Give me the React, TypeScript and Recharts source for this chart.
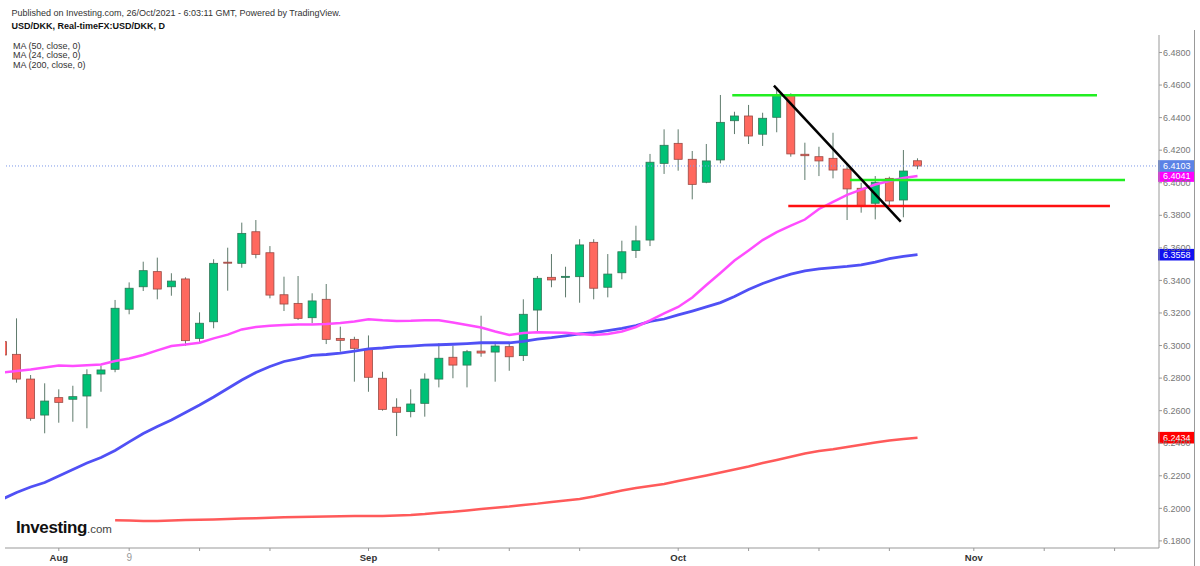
import React from 'react';
import { ComposedChart, Bar, Line, XAxis, YAxis, ReferenceLine } from 'recharts';

const FONT = '"Liberation Sans", Arial, sans-serif';

// daily USD/DKK candles, Jul 27 -> Oct 26 2021
const DATES = [
  'Jul 27', 'Jul 28', 'Jul 29', 'Jul 30',
  'Aug 2', 'Aug 3', 'Aug 4', 'Aug 5', 'Aug 6', 'Aug 9', 'Aug 10', 'Aug 11', 'Aug 12', 'Aug 13',
  'Aug 16', 'Aug 17', 'Aug 18', 'Aug 19', 'Aug 20', 'Aug 23', 'Aug 24', 'Aug 25', 'Aug 26', 'Aug 27',
  'Aug 30', 'Aug 31',
  'Sep 1', 'Sep 2', 'Sep 3', 'Sep 6', 'Sep 7', 'Sep 8', 'Sep 9', 'Sep 10', 'Sep 13', 'Sep 14',
  'Sep 15', 'Sep 16', 'Sep 17', 'Sep 20', 'Sep 21', 'Sep 22', 'Sep 23', 'Sep 24', 'Sep 27', 'Sep 28',
  'Sep 29', 'Sep 30',
  'Oct 1', 'Oct 4', 'Oct 5', 'Oct 6', 'Oct 7', 'Oct 8', 'Oct 11', 'Oct 12', 'Oct 13', 'Oct 14',
  'Oct 15', 'Oct 18', 'Oct 19', 'Oct 20', 'Oct 21', 'Oct 22', 'Oct 25', 'Oct 26',
];

const OPEN = [
  6.3024, 6.2946, 6.2794, 6.2573,
  6.2680, 6.2670, 6.2690, 6.2825, 6.2854, 6.3223, 6.3361, 6.3454, 6.3361, 6.3409,
  6.3044, 6.3146, 6.3512, 6.3505, 6.3699, 6.3570, 6.3312, 6.3259, 6.3171, 6.3284,
  6.3044, 6.3038,
  6.2977, 6.2799, 6.2621, 6.2594, 6.2645, 6.2794, 6.2928, 6.2880, 6.2966, 6.2960,
  6.2993, 6.2938, 6.3218, 6.3419, 6.3419, 6.3423, 6.3634, 6.3358, 6.3447, 6.3584,
  6.3648, 6.4119,
  6.4242, 6.4144, 6.4003, 6.4140, 6.4381, 6.4410, 6.4298, 6.4402, 6.4535, 6.4175,
  6.4160, 6.4150, 6.4084, 6.3966, 6.3874, 6.4027, 6.3894, 6.4135,
];

const HIGH = [
  6.3060, 6.3167, 6.2819, 6.2768,
  6.2731, 6.2753, 6.2854, 6.2876, 6.3280, 6.3388, 6.3515, 6.3540, 6.3444, 6.3419,
  6.3204, 6.3530, 6.3601, 6.3755, 6.3771, 6.3611, 6.3423, 6.3427, 6.3321, 6.3378,
  6.3116, 6.3054,
  6.3062, 6.2839, 6.2676, 6.2731, 6.2829, 6.3014, 6.2999, 6.2973, 6.3183, 6.3024,
  6.3024, 6.3284, 6.3427, 6.3562, 6.3484, 6.3653, 6.3653, 6.3562, 6.3644, 6.3736,
  6.4177, 6.4328,
  6.4328, 6.4195, 6.4238, 6.4539, 6.4436, 6.4478, 6.4430, 6.4586, 6.4549, 6.4246,
  6.4221, 6.4307, 6.4099, 6.4000, 6.4041, 6.4037, 6.4201, 6.4150,
];

const LOW = [
  6.2930, 6.2772, 6.2538, 6.2461,
  6.2526, 6.2532, 6.2492, 6.2716, 6.2836, 6.3192, 6.3335, 6.3284, 6.3306, 6.2999,
  6.3014, 6.3106, 6.3337, 6.3478, 6.3536, 6.3290, 6.3212, 6.3157, 6.3137, 6.3009,
  6.2962, 6.2778,
  6.2716, 6.2600, 6.2444, 6.2559, 6.2563, 6.2743, 6.2799, 6.2743, 6.2931, 6.2778,
  6.2845, 6.2905, 6.3079, 6.3358, 6.3296, 6.3263, 6.3284, 6.3296, 6.3407, 6.3538,
  6.3611, 6.4054,
  6.4074, 6.3898, 6.3997, 6.4119, 6.4299, 6.4238, 6.4226, 6.4310, 6.4160, 6.4017,
  6.4041, 6.4027, 6.3771, 6.3816, 6.3775, 6.3857, 6.3788, 6.4083,
];

const CLOSE = [
  6.2942, 6.2794, 6.2553, 6.2659,
  6.2651, 6.2686, 6.2821, 6.2850, 6.3229, 6.3352, 6.3460, 6.3347, 6.3396, 6.3030,
  6.3137, 6.3505, 6.3506, 6.3689, 6.3560, 6.3310, 6.3255, 6.3167, 6.3274, 6.3038,
  6.3032, 6.2983,
  6.2805, 6.2608, 6.2590, 6.2641, 6.2794, 6.2922, 6.2880, 6.2962, 6.2954, 6.2997,
  6.2931, 6.3192, 6.3413, 6.3403, 6.3425, 6.3618, 6.3352, 6.3439, 6.3576, 6.3643,
  6.4126, 6.4230,
  6.4144, 6.3990, 6.4134, 6.4371, 6.4410, 6.4287, 6.4396, 6.4535, 6.4177, 6.4166,
  6.4134, 6.4078, 6.3962, 6.3859, 6.4003, 6.3888, 6.4072, 6.4103,
];

const MA24 = [
  6.2834, 6.2844, 6.2853, 6.2865, 6.2877, 6.2874, 6.2879, 6.2884, 6.2905, 6.2920,
  6.2942, 6.2970, 6.2997, 6.3006, 6.3017, 6.3044, 6.3067, 6.3099, 6.3114, 6.3121,
  6.3126, 6.3129, 6.3130, 6.3132, 6.3138, 6.3148, 6.3161, 6.3155, 6.3151, 6.3152,
  6.3155, 6.3156, 6.3142, 6.3126, 6.3111, 6.3086, 6.3065, 6.3077, 6.3081, 6.3080,
  6.3078, 6.3071, 6.3065, 6.3071, 6.3086, 6.3114, 6.3154, 6.3197, 6.3237, 6.3295,
  6.3372, 6.3446, 6.3522, 6.3584, 6.3648, 6.3697, 6.3737, 6.3774, 6.3839, 6.3882,
  6.3925, 6.3958, 6.3989, 6.4011, 6.4029, 6.4041,
];

const MA50 = [
  6.2057, 6.2097, 6.2131, 6.2159, 6.2199, 6.2239, 6.2279, 6.2312, 6.2355, 6.2408,
  6.2460, 6.2503, 6.2543, 6.2589, 6.2635, 6.2684, 6.2736, 6.2788, 6.2834, 6.2871,
  6.2902, 6.2920, 6.2939, 6.2945, 6.2954, 6.2966, 6.2979, 6.2985, 6.2993, 6.2997,
  6.3002, 6.3005, 6.3008, 6.3012, 6.3017, 6.3017, 6.3017, 6.3025, 6.3040, 6.3049,
  6.3060, 6.3071, 6.3080, 6.3092, 6.3105, 6.3123, 6.3148, 6.3163, 6.3188, 6.3212,
  6.3237, 6.3264, 6.3301, 6.3344, 6.3381, 6.3412, 6.3439, 6.3458, 6.3471, 6.3479,
  6.3486, 6.3496, 6.3513, 6.3534, 6.3548, 6.3558,
];

// MA 200 is only drawn from Aug 6 on
const MA200 = [
  null, null, null, null, null, null, null, null,
  6.1927, 6.1925, 6.1923, 6.1923, 6.1926, 6.1928, 6.1930, 6.1932, 6.1935, 6.1937,
  6.1939, 6.1942, 6.1945, 6.1947, 6.1948, 6.1950, 6.1952, 6.1953, 6.1953, 6.1953,
  6.1956, 6.1959, 6.1965, 6.1973, 6.1979, 6.1987, 6.1996, 6.2003, 6.2011, 6.2021,
  6.2029, 6.2039, 6.2048, 6.2057, 6.2073, 6.2091, 6.2110, 6.2125, 6.2137, 6.2150,
  6.2168, 6.2185, 6.2202, 6.2220, 6.2239, 6.2257, 6.2279, 6.2297, 6.2317, 6.2337,
  6.2352, 6.2363, 6.2377, 6.2390, 6.2404, 6.2417, 6.2426, 6.2434,
];

// weekly ticks, as trading-day index (Nov ones lie in the empty future area)
const X_TICKS = [4, 9, 14, 19, 26, 31, 36, 41, 48, 53, 58, 63, 69, 74, 79];
const X_TICK_LABELS = ['Aug', '9', '', '', 'Sep', '', '', '', 'Oct', '', '', '', 'Nov', '', ''];
const Y_TICKS = [
  6.18, 6.2, 6.22, 6.24, 6.26, 6.28, 6.3, 6.32, 6.34, 6.36, 6.38, 6.4, 6.42, 6.44, 6.46, 6.48,
];

// hand-drawn lines: [start index, start price, end index, end price]
const GREEN_TOP = [51.84, 6.4537, 77.75, 6.4537];
const GREEN_MID = [60.2, 6.4017, 79.74, 6.4017];
const RED_SUPPORT = [55.82, 6.3857, 78.67, 6.3857];
const BLACK_TREND = [54.8, 6.4596, 63.81, 6.3761];

const X_DOMAIN = [0.1782, 82.154];
const Y_DOMAIN = [6.17564, 6.49075];

const UP = '#00c176';
const UP_EDGE = '#2f7656';
const DOWN = '#ff685e';
const DOWN_EDGE = '#9a4a44';
const WICK = '#5f7a6c';

const rows = DATES.map((d, i) => ({
  i,
  date: d,
  open: OPEN[i],
  high: HIGH[i],
  low: LOW[i],
  close: CLOSE[i],
  range: [LOW[i], HIGH[i]],
  ma24: MA24[i],
  ma50: MA50[i],
  ma200: MA200[i],
}));

const last = rows.length - 1;

const Candle = (props: any) => {
  const { x, y, width, height, payload } = props;
  if (!payload || x == null || y == null) return null;
  const { open, close, high, low } = payload;
  const cx = x + width / 2;
  const top = Math.min(y, y + height);
  const span = Math.abs(height);
  const perUnit = span / (high - low);
  const yOpen = top + (high - open) * perUnit;
  const yClose = top + (high - close) * perUnit;
  const up = close >= open;
  const bodyTop = Math.min(yOpen, yClose);
  const bodyH = Math.max(1, Math.abs(yOpen - yClose));
  return (
    <g>
      <line x1={cx} x2={cx} y1={top} y2={top + span} stroke={WICK} strokeWidth={1} />
      <rect
        x={cx - 4}
        y={bodyTop}
        width={8}
        height={bodyH}
        fill={up ? UP : DOWN}
        stroke={up ? UP_EDGE : DOWN_EDGE}
        strokeWidth={0.8}
      />
    </g>
  );
};

const DateTick = ({ x, y, payload }: any) => {
  const k = X_TICKS.indexOf(payload.value);
  const label = X_TICK_LABELS[k];
  if (!label) return null;
  const month = label.length > 1;
  return (
    <text
      x={x}
      y={y + 8}
      textAnchor="middle"
      fontFamily={FONT}
      fontSize={month ? 9.5 : 10}
      fontWeight={month ? 700 : 400}
      fill={month ? '#333' : '#999'}
    >
      {label}
    </text>
  );
};

const AxisTag = ({ viewBox, text, bg }: any) => {
  if (!viewBox) return null;
  const x = viewBox.x + viewBox.width;
  const y = viewBox.y;
  return (
    <g>
      <rect x={x - 1} y={y - 5.8} width={37} height={11.6} fill={bg} />
      <text x={x + 4} y={y + 3.2} fontFamily={FONT} fontSize={9} fill="#fff">
        {text}
      </text>
    </g>
  );
};

const segment = (s: number[]) => [
  { x: s[0], y: s[1] },
  { x: s[2], y: s[3] },
];

export default function App() {
  return (
    <div style={{ position: 'absolute', left: 0, top: 0, width: 1200, height: 566, background: '#fff' }}>
      <ComposedChart
        width={1200}
        height={566}
        data={rows}
        margin={{ top: 35, right: 0, bottom: 0, left: 5 }}
      >
        <XAxis
          dataKey="i"
          type="number"
          domain={X_DOMAIN}
          allowDataOverflow
          ticks={X_TICKS}
          interval={0}
          height={18}
          tickSize={3}
          tick={<DateTick />}
          stroke="#999"
        />
        <YAxis
          orientation="right"
          domain={Y_DOMAIN}
          allowDataOverflow
          ticks={Y_TICKS}
          interval={0}
          width={41}
          tickSize={3}
          tickMargin={1}
          tickFormatter={(v: number) => v.toFixed(4)}
          tick={{ fontSize: 9, fill: '#777', fontFamily: FONT }}
          stroke="#999"
        />
        <ReferenceLine y={CLOSE[last]} stroke="#7b97e8" strokeDasharray="1 2" />
        <Bar dataKey="range" barSize={8} shape={(p: any) => <Candle {...p} />} isAnimationActive={false} />
        <Line dataKey="ma200" stroke="#ff5a5a" strokeWidth={2.5} dot={false} isAnimationActive={false} />
        <Line dataKey="ma50" stroke="#5050f5" strokeWidth={2.8} dot={false} isAnimationActive={false} />
        <Line dataKey="ma24" stroke="#ff4dff" strokeWidth={2.5} dot={false} isAnimationActive={false} />
        <ReferenceLine segment={segment(GREEN_TOP)} stroke="#22ee22" strokeWidth={2.5} />
        <ReferenceLine segment={segment(GREEN_MID)} stroke="#22ee22" strokeWidth={2.5} />
        <ReferenceLine segment={segment(RED_SUPPORT)} stroke="#ff1010" strokeWidth={2.5} />
        <ReferenceLine segment={segment(BLACK_TREND)} stroke="#000" strokeWidth={2.5} />
        <ReferenceLine
          y={MA200[last] as number}
          stroke="none"
          label={<AxisTag text={(MA200[last] as number).toFixed(4)} bg="#ff0000" />}
        />
        <ReferenceLine y={MA50[last]} stroke="none" label={<AxisTag text={MA50[last].toFixed(4)} bg="#1010f0" />} />
        <ReferenceLine y={MA24[last]} stroke="none" label={<AxisTag text={MA24[last].toFixed(4)} bg="#ff00ff" />} />
        <ReferenceLine y={CLOSE[last]} stroke="none" label={<AxisTag text={CLOSE[last].toFixed(4)} bg="#5b82e6" />} />
      </ComposedChart>
      <svg
        width={1200}
        height={566}
        style={{ position: 'absolute', left: 0, top: 0, pointerEvents: 'none' }}
        fontFamily={FONT}
      >
        <text x={11.5} y={15.5} fontSize={9} fill="#333">
          Published on Investing.com, 26/Oct/2021 - 6:03:11 GMT, Powered by TradingView.
        </text>
        <text x={11.5} y={29.2} fontSize={9} fontWeight={700} fill="#111">
          USD/DKK, Real-timeFX:USD/DKK, D
        </text>
        <text x={13} y={48.5} fontSize={9} fill="#333">MA (50, close, 0)</text>
        <text x={13} y={58.3} fontSize={9} fill="#333">MA (24, close, 0)</text>
        <text x={13} y={68} fontSize={9} fill="#333">MA (200, close, 0)</text>
        <text x={16} y={533} fontSize={17} fontWeight={700} letterSpacing={-0.4} fill="#111">
          Investing<tspan fontSize={11.5} fontWeight={400} letterSpacing={0} fill="#444">.com</tspan>
        </text>
        <line x1={1194.5} x2={1194.5} y1={30} y2={566} stroke="#999" strokeWidth={1} />
      </svg>
    </div>
  );
}
